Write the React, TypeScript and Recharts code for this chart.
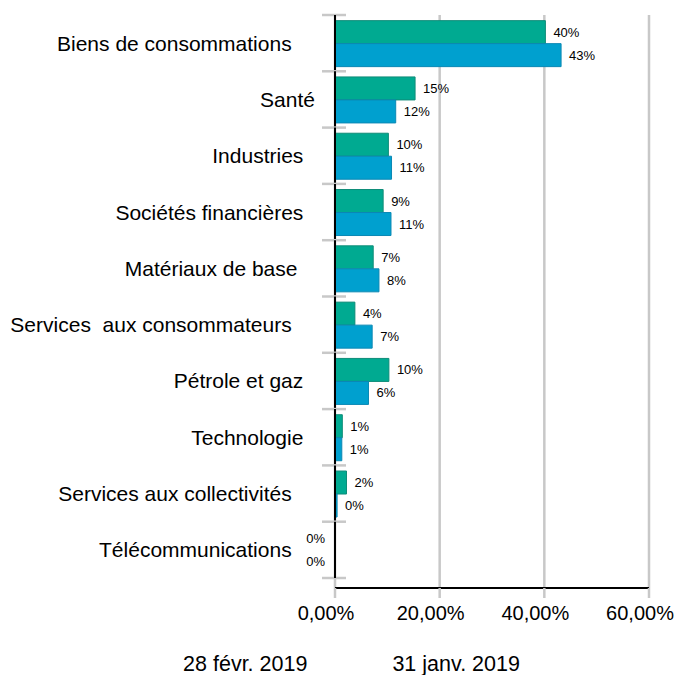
import { BarChart, Bar, XAxis, YAxis, CartesianGrid, Legend, LabelList } from "recharts";

const FONT = "'Liberation Sans', Arial, Helvetica, sans-serif";
const CAT_FONT = 21;

// Secteurs (les espaces de fin font partie des libellés d'origine)
const sectors = [
  "Biens de consommations    ",
  "Santé",
  "Industries  ",
  "Sociétés financières  ",
  "Matériaux de base   ",
  "Services  aux consommateurs    ",
  "Pétrole et gaz  ",
  "Technologie  ",
  "Services aux collectivités    ",
  "Télécommunications    ",
];

// Poids en % par date
const feb2019 = [40.2, 15.3, 10.2, 9.2, 7.3, 3.8, 10.3, 1.4, 2.2, 0];
const jan2019 = [43.2, 11.6, 10.8, 10.7, 8.4, 7.1, 6.4, 1.3, 0.4, 0];

const seriesNames = ["28 févr. 2019", "31 janv. 2019"];
const xTicks = [0, 20, 40, 60];

const data = sectors.map((name, i) => ({ name, feb: feb2019[i], jan: jan2019[i] }));

const GREEN = "#00AA91";
const BLUE = "#00A0CF";
const GRID = "#C8C8C8";

// tick de catégorie : libellé + repères gris aux limites + trait d'axe noir
const CategoryTick = (props: any) => {
  const { x, y, payload, index, visibleTicksCount } = props;
  const axisX = x + 20;
  const half = payload.offset ?? 0;
  const isLast = index === visibleTicksCount - 1;
  const raw = String(payload.value);
  const label = raw.replace(/\s+$/, "");
  // les espaces de fin décalent le texte (largeur d'une espace ≈ 0.278em)
  const shift = (raw.length - label.length) * 0.278 * CAT_FONT;
  return (
    <g>
      <line x1={axisX - 13} x2={axisX + 11} y1={y - half} y2={y - half} stroke={GRID} strokeWidth={2.5} />
      {isLast && (
        <line x1={axisX - 13} x2={axisX + 11} y1={y + half} y2={y + half} stroke={GRID} strokeWidth={2.5} />
      )}
      <line x1={axisX} x2={axisX} y1={y - half} y2={y + half} stroke="#000" strokeWidth={2} />
      <text
        x={x - shift}
        y={y}
        textAnchor="end"
        dominantBaseline="central"
        fontSize={CAT_FONT}
        fontFamily={FONT}
        fill="#000"
        style={{ whiteSpace: "pre" }}
      >
        {label}
      </text>
    </g>
  );
};

const renderValueLabel = (props: any) => {
  const { x, y, width, height, value } = props;
  const v = Number(value) || 0;
  const zero = v === 0;
  return (
    <text
      x={zero ? x - 10 : x + width + 8}
      y={y + height / 2}
      textAnchor={zero ? "end" : "start"}
      dominantBaseline="central"
      fontSize={13}
      fontFamily={FONT}
      fill="#000"
    >
      {`${Math.round(v)}%`}
    </text>
  );
};

const renderLegend = (props: any) => (
  <div
    style={{
      display: "flex",
      justifyContent: "center",
      gap: 85,
      paddingTop: 21,
      paddingLeft: 20,
      height: 20,
      fontSize: 21.5,
      lineHeight: "20px",
      fontFamily: FONT,
      color: "#000",
    }}
  >
    {(props.payload || []).map((entry: any) => (
      <div key={entry.value} style={{ whiteSpace: "nowrap" }}>
        {entry.value}
      </div>
    ))}
  </div>
);

export default function App() {
  return (
    <div style={{ position: "absolute", left: 0, top: 0, background: "#fff" }}>
      <BarChart
        width={683}
        height={675}
        data={data}
        layout="vertical"
        margin={{ top: 15, right: 34, bottom: 0, left: 0 }}
        barCategoryGap="10%"
        barGap={0}
      >
        <CartesianGrid horizontal={false} stroke={GRID} strokeWidth={2.5} />
        <XAxis
          type="number"
          domain={[0, 60]}
          ticks={xTicks}
          height={45}
          tickFormatter={(v: number) => v.toFixed(2).replace(".", ",") + "%"}
          axisLine={{ stroke: "#000", strokeWidth: 2 }}
          tickLine={{ stroke: GRID, strokeWidth: 2.5 }}
          tickSize={10}
          tickMargin={8}
          tick={{ fontSize: 20, fill: "#000", fontFamily: FONT, dx: -9 }}
        />
        <YAxis
          type="category"
          dataKey="name"
          width={335}
          padding={{ top: 0, bottom: 10 }}
          axisLine={false}
          tickLine={false}
          tickSize={0}
          tickMargin={20}
          interval={0}
          tick={<CategoryTick />}
        />
        <Legend
          verticalAlign="bottom"
          height={42}
          wrapperStyle={{ left: 0, width: 683 }}
          content={renderLegend}
        />
        <Bar
          dataKey="feb"
          name={seriesNames[0]}
          fill={GREEN}
          stroke="#0E8C78"
          strokeWidth={1}
          minPointSize={0.01}
          isAnimationActive={false}
        >
          <LabelList dataKey="feb" content={renderValueLabel} />
        </Bar>
        <Bar
          dataKey="jan"
          name={seriesNames[1]}
          fill={BLUE}
          stroke="#0B88B4"
          strokeWidth={1}
          minPointSize={0.01}
          isAnimationActive={false}
        >
          <LabelList dataKey="jan" content={renderValueLabel} />
        </Bar>
      </BarChart>
    </div>
  );
}
